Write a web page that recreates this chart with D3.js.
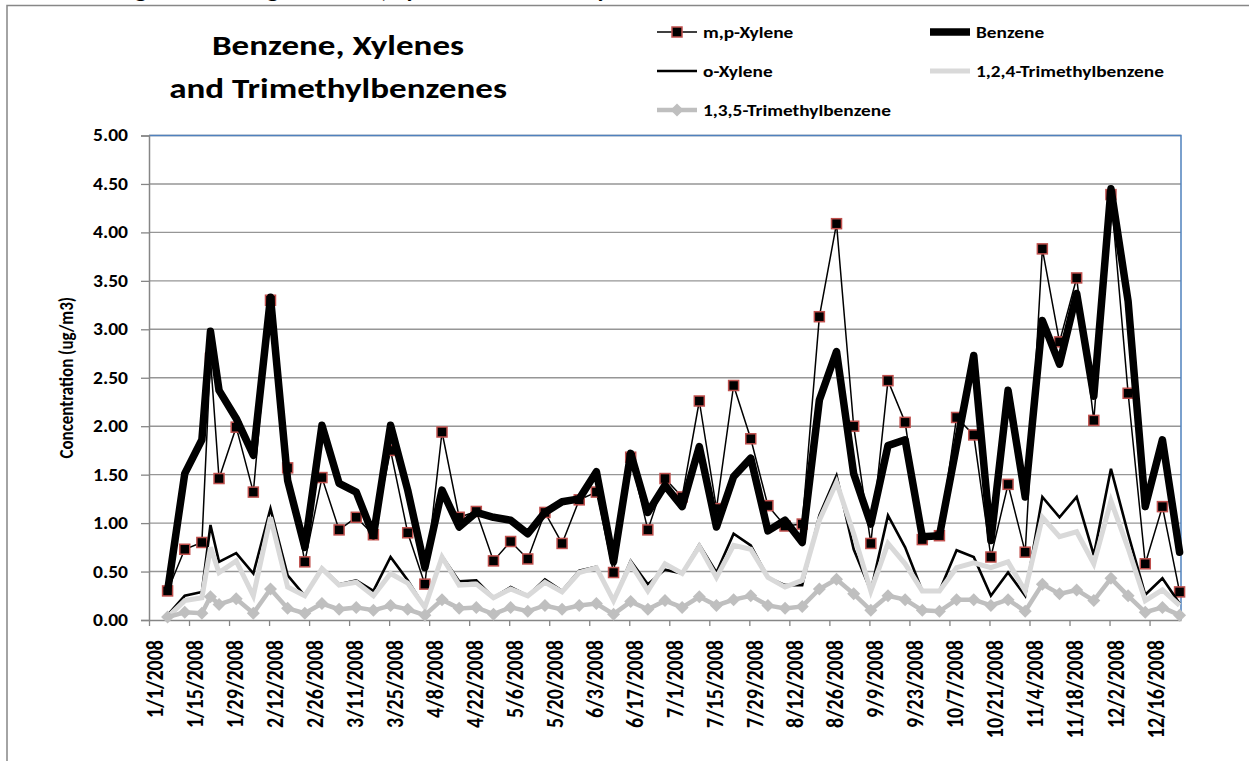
<html>
<head>
<meta charset="utf-8">
<script src="https://d3js.org/d3.v7.min.js"></script>
<style>
  body { margin: 0; background: #fff; }
  text { font-family: Carlito, Calibri, Lato, "Open Sans", sans-serif; font-weight: bold; fill: #000; }
</style>
</head>
<body>
<script>

// sample dates (1/1 has no sample)
var dates = ["1/1/2008","1/7/2008","1/13/2008","1/19/2008","1/22/2008","1/25/2008","1/31/2008",
  "2/6/2008","2/12/2008","2/18/2008","2/24/2008","3/1/2008","3/7/2008","3/13/2008","3/19/2008",
  "3/25/2008","3/31/2008","4/6/2008","4/12/2008","4/18/2008","4/24/2008","4/30/2008","5/6/2008",
  "5/12/2008","5/18/2008","5/24/2008","5/30/2008","6/5/2008","6/11/2008","6/17/2008","6/23/2008",
  "6/29/2008","7/5/2008","7/11/2008","7/17/2008","7/23/2008","7/29/2008","8/4/2008","8/10/2008",
  "8/16/2008","8/22/2008","8/28/2008","9/3/2008","9/9/2008","9/15/2008","9/21/2008","9/27/2008",
  "10/3/2008","10/9/2008","10/15/2008","10/21/2008","10/27/2008","11/2/2008","11/8/2008","11/14/2008",
  "11/20/2008","11/26/2008","12/2/2008","12/8/2008","12/14/2008","12/20/2008","12/26/2008"];

var mpXylene = [null, 0.30, 0.73, 0.80, 2.70, 1.46, 1.99, 1.32, 3.30, 1.57, 0.60, 1.47, 0.93, 1.06, 0.88,
  1.75, 0.90, 0.37, 1.94, 1.06, 1.12, 0.61, 0.81, 0.63, 1.11, 0.79, 1.24, 1.32, 0.49, 1.68, 0.93,
  1.46, 1.27, 2.26, 1.15, 2.42, 1.87, 1.18, 0.97, 0.99, 3.13, 4.09, 2.00, 0.79, 2.47, 2.04, 0.83,
  0.87, 2.09, 1.91, 0.65, 1.40, 0.70, 3.83, 2.87, 3.53, 2.06, 4.39, 2.34, 0.58, 1.17, 0.29];

var benzene = [null, 0.30, 1.51, 1.86, 2.98, 2.37, 2.08, 1.70, 3.33, 1.44, 0.75, 2.01, 1.41, 1.32, 0.87,
  2.01, 1.34, 0.54, 1.34, 0.96, 1.11, 1.06, 1.03, 0.89, 1.11, 1.22, 1.25, 1.53, 0.60, 1.72, 1.11,
  1.39, 1.17, 1.79, 0.96, 1.48, 1.67, 0.92, 1.03, 0.80, 2.27, 2.77, 1.51, 0.99, 1.80, 1.86, 0.86,
  0.87, 1.80, 2.73, 0.82, 2.37, 1.27, 3.09, 2.64, 3.37, 2.31, 4.45, 3.29, 1.17, 1.86, 0.70];

var oXylene = [null, 0.05, 0.25, 0.29, 0.98, 0.60, 0.69, 0.48, 1.15, 0.46, 0.25, 0.54, 0.37, 0.41, 0.30,
  0.65, 0.41, 0.13, 0.66, 0.40, 0.41, 0.23, 0.34, 0.25, 0.42, 0.30, 0.51, 0.55, 0.20, 0.61, 0.37,
  0.52, 0.48, 0.78, 0.49, 0.89, 0.77, 0.44, 0.36, 0.36, 1.08, 1.49, 0.73, 0.30, 1.08, 0.75, 0.30,
  0.30, 0.72, 0.65, 0.25, 0.49, 0.25, 1.27, 1.06, 1.27, 0.67, 1.56, 0.89, 0.26, 0.43, 0.17];

var tmb124 = [null, 0.03, 0.20, 0.23, 0.75, 0.49, 0.61, 0.25, 1.06, 0.34, 0.25, 0.53, 0.36, 0.39, 0.25,
  0.48, 0.38, 0.13, 0.65, 0.36, 0.37, 0.23, 0.32, 0.25, 0.39, 0.29, 0.49, 0.54, 0.20, 0.58, 0.30,
  0.58, 0.48, 0.76, 0.44, 0.77, 0.73, 0.44, 0.34, 0.41, 1.03, 1.42, 0.89, 0.30, 0.79, 0.58, 0.30,
  0.30, 0.54, 0.59, 0.54, 0.60, 0.30, 1.06, 0.86, 0.91, 0.58, 1.23, 0.74, 0.20, 0.31, 0.15];

var tmb135 = [null, 0.03, 0.08, 0.07, 0.24, 0.16, 0.22, 0.07, 0.32, 0.12, 0.07, 0.17, 0.11, 0.13, 0.10,
  0.15, 0.11, 0.05, 0.21, 0.12, 0.13, 0.06, 0.13, 0.09, 0.15, 0.11, 0.15, 0.17, 0.06, 0.19, 0.11,
  0.20, 0.13, 0.24, 0.15, 0.21, 0.25, 0.15, 0.12, 0.14, 0.32, 0.42, 0.27, 0.10, 0.25, 0.21, 0.10,
  0.09, 0.21, 0.21, 0.15, 0.21, 0.09, 0.37, 0.27, 0.31, 0.20, 0.43, 0.25, 0.08, 0.13, 0.05];

var tickLabels = ["1/1/2008","1/15/2008","1/29/2008","2/12/2008","2/26/2008","3/11/2008","3/25/2008",
  "4/8/2008","4/22/2008","5/6/2008","5/20/2008","6/3/2008","6/17/2008","7/1/2008","7/15/2008",
  "7/29/2008","8/12/2008","8/26/2008","9/9/2008","9/23/2008","10/7/2008","10/21/2008","11/4/2008",
  "11/18/2008","12/2/2008","12/16/2008"];

var yTicks = [0, 0.5, 1, 1.5, 2, 2.5, 3, 3.5, 4, 4.5, 5];

var seriesNames = ["m,p-Xylene", "Benzene", "o-Xylene", "1,2,4-Trimethylbenzene", "1,3,5-Trimethylbenzene"];

var margin = {top: 135.5, right: 68, bottom: 141, left: 149},
    W = 1249, H = 761,
    width = W - margin.left - margin.right,
    height = H - margin.top - margin.bottom;

// the original picture is stretched sideways a bit
var sx = 1.21;

var parse = d3.utcParse("%m/%d/%Y");

var svg = d3.select("body").append("svg")
            .attr("width", W)
            .attr("height", H);

// cut-off caption above the chart frame
svg.append("text")
   .attr("transform", "translate(118,-2) scale(" + sx + ",1)")
   .style("font-size", "20px")
   .text("Figure 6.  Average Benzene, Xylenes and Trimethylbenzenes");

// chart frame
svg.append("path")
   .attr("d", "M7,761 L7,5.5 L1249,5.5")
   .attr("fill", "none")
   .attr("stroke", "#878787")
   .attr("stroke-width", 1.5);

var g = svg.append("g")
           .attr("transform", "translate(" + margin.left + "," + margin.top + ")");

var x = d3.scaleUtc()
          .domain([parse("1/1/2008"), parse("12/27/2008")])
          .range([0, width]);
var y = d3.scaleLinear()
          .domain([0, 5])
          .range([height, 0]);

// gridlines
g.selectAll(".grid")
 .data(yTicks.slice(1))
 .enter().append("line")
 .attr("x1", 0).attr("x2", width)
 .attr("y1", function(d) { return y(d); })
 .attr("y2", function(d) { return y(d); })
 .attr("stroke", "#969696")
 .attr("stroke-width", 1.4);

// plot-area border (top/right)
g.append("path")
 .attr("d", "M0,0 L" + width + ",0 L" + width + "," + height)
 .attr("fill", "none")
 .attr("stroke", "#4f81bd")
 .attr("stroke-width", 1.5);

var yAxis = g.append("g")
             .call(d3.axisLeft(y).tickValues(yTicks).tickFormat(d3.format(".2f")).tickSize(8));
yAxis.select(".domain").attr("stroke", "#868686").attr("stroke-width", 1.5);
yAxis.selectAll(".tick line").attr("stroke", "#868686").attr("stroke-width", 1.3);
yAxis.selectAll("text")
     .style("font-size", "17px").style("font-family", "Carlito, Calibri, Lato, sans-serif").style("font-weight", "bold")
     .attr("x", 0)
     .attr("transform", "translate(-21,0) scale(1.15,1)");

var xAxis = g.append("g")
             .attr("transform", "translate(0," + height + ")")
             .call(d3.axisBottom(x).tickValues(tickLabels.map(parse))
                    .tickFormat(d3.utcFormat("%-m/%-d/%Y")).tickSize(6).tickSizeOuter(0));
xAxis.select(".domain").attr("stroke", "#868686").attr("stroke-width", 1.5);
xAxis.selectAll(".tick line").attr("stroke", "#868686").attr("stroke-width", 1.3);
xAxis.selectAll("text")
     .style("font-size", "20px").style("font-family", "Carlito, Calibri, Lato, sans-serif").style("font-weight", "bold")
     .attr("text-anchor", "end")
     .attr("x", 0).attr("y", 0).attr("dy", "0.35em")
     .attr("transform", "translate(5,20) scale(" + sx + ",1) rotate(-90)");

svg.append("text")
   .attr("transform", "translate(66," + (margin.top + height / 2) + ") scale(" + sx + ",1) rotate(-90)")
   .attr("text-anchor", "middle")
   .attr("dy", "0.35em")
   .style("font-size", "17px")
   .text("Concentration (ug/m3)");

// series
function pts(vals) {
  return dates.map(function(d, i) {
    return {date: d3.utcHour.offset(parse(d), 12), v: vals[i]};
  });
}
var line = d3.line()
             .defined(function(d) { return d.v != null; })
             .x(function(d) { return x(d.date); })
             .y(function(d) { return y(d.v); });

var mpPts = pts(mpXylene);
g.append("path").datum(mpPts)
 .attr("d", line).attr("fill", "none").attr("stroke", "#000").attr("stroke-width", 1.5);
g.selectAll(".mp").data(mpPts.filter(function(d) { return d.v != null; }))
 .enter().append("rect")
 .attr("x", function(d) { return x(d.date) - 5; })
 .attr("y", function(d) { return y(d.v) - 5; })
 .attr("width", 10).attr("height", 10)
 .attr("fill", "#000").attr("stroke", "#c0504d").attr("stroke-width", 1.5);

g.append("path").datum(pts(benzene))
 .attr("d", line).attr("fill", "none").attr("stroke", "#000").attr("stroke-width", 7.5)
 .attr("stroke-linejoin", "round").attr("stroke-linecap", "round");

g.append("path").datum(pts(oXylene))
 .attr("d", line).attr("fill", "none").attr("stroke", "#000").attr("stroke-width", 2.6);

g.append("path").datum(pts(tmb124))
 .attr("d", line).attr("fill", "none").attr("stroke", "#d9d9d9").attr("stroke-width", 5);

var t135 = pts(tmb135);
g.append("path").datum(t135)
 .attr("d", line).attr("fill", "none").attr("stroke", "#bfbfbf").attr("stroke-width", 4.5);
g.selectAll(".dia").data(t135.filter(function(d) { return d.v != null; }))
 .enter().append("path")
 .attr("d", "M0,-6.5L6.5,0L0,6.5L-6.5,0Z")
 .attr("transform", function(d) { return "translate(" + x(d.date) + "," + y(d.v) + ")"; })
 .attr("fill", "#bfbfbf");

// title
svg.append("text").attr("text-anchor", "middle").style("font-size", "29px")
   .attr("transform", "translate(338,55) scale(" + sx + ",1)")
   .text("Benzene, Xylenes");
svg.append("text").attr("text-anchor", "middle").style("font-size", "29px")
   .attr("transform", "translate(338,98) scale(" + sx + ",1)")
   .text("and Trimethylbenzenes");

// legend
var legend = [
  {name: seriesNames[0], x: 657, y: 32, stroke: "#000", w: 1.5, marker: "square"},
  {name: seriesNames[1], x: 930, y: 32, stroke: "#000", w: 7.5, marker: null},
  {name: seriesNames[2], x: 657, y: 71, stroke: "#000", w: 2.6, marker: null},
  {name: seriesNames[3], x: 930, y: 71, stroke: "#d9d9d9", w: 5, marker: null},
  {name: seriesNames[4], x: 657, y: 110, stroke: "#bfbfbf", w: 4.5, marker: "diamond"}
];
var lg = svg.selectAll(".leg").data(legend).enter().append("g")
            .attr("transform", function(d) { return "translate(" + d.x + "," + d.y + ")"; });
lg.append("line").attr("x1", 0).attr("x2", 40)
  .attr("stroke", function(d) { return d.stroke; })
  .attr("stroke-width", function(d) { return d.w; });
lg.filter(function(d) { return d.marker == "square"; }).append("rect")
  .attr("x", 15).attr("y", -5).attr("width", 10).attr("height", 10)
  .attr("fill", "#000").attr("stroke", "#c0504d").attr("stroke-width", 1.5);
lg.filter(function(d) { return d.marker == "diamond"; }).append("path")
  .attr("d", "M20,-6.5L26.5,0L20,6.5L13.5,0Z").attr("fill", "#bfbfbf");
lg.append("text")
  .attr("transform", "translate(46,0) scale(" + sx + ",1)")
  .attr("dy", "0.35em")
  .style("font-size", "16px")
  .text(function(d) { return d.name; });

</script>
</body>
</html>
